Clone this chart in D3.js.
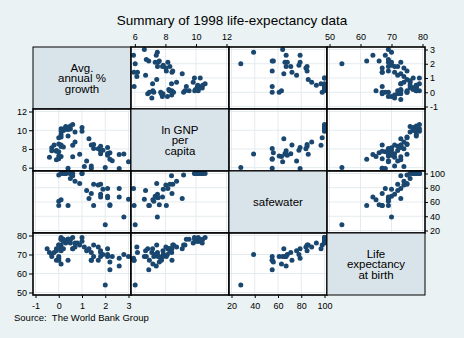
<!DOCTYPE html>
<html>
<head>
<meta charset="utf-8">
<script src="https://cdn.jsdelivr.net/npm/d3@7"></script>
<style>
  body { margin: 0; background: #eaf2f3; }
  svg { display: block; font-family: "Liberation Sans", Arial, sans-serif; }
</style>
</head>
<body>
<script>
// 1998 life-expectancy data
var countries = ["Albania","Armenia","Austria","Azerbaijan","Belarus","Belgium","Bosnia and Herzegovina","Bulgaria","Croatia","Czech Republic",
  "Denmark","Estonia","Finland","France","Georgia","Germany","Greece","Hungary","Ireland","Italy",
  "Kazakhstan","Kyrgyz Republic","Latvia","Lithuania","Macedonia, FYR","Moldova","Netherlands","Norway","Poland","Portugal",
  "Romania","Russian Federation","Slovak Republic","Slovenia","Spain","Sweden","Switzerland","Tajikistan","Turkey","Turkmenistan",
  "Ukraine","United Kingdom","Uzbekistan","Yugoslavia, FR","Canada","Cuba","Dominican Republic","El Salvador","Guatemala","Haiti",
  "Honduras","Jamaica","Mexico","Nicaragua","Panama","Puerto Rico","Trinidad and Tobago","United States","Argentina","Bolivia",
  "Brazil","Chile","Colombia","Ecuador","Paraguay","Peru","Uruguay","Venezuela"];

var popgrowth = [1.2,1.1,0.4,1.4,0.0,0.2,-0.5,-0.4,0.1,0.0,
  0.3,-0.3,0.3,0.4,-0.1,0.3,0.4,-0.2,0.7,0.1,
  0.1,1.4,-0.3,-0.1,0.6,0.4,0.5,0.5,0.1,0.1,
  0.0,-0.1,0.2,0.0,0.1,0.1,0.6,1.7,1.5,2.2,
  0.0,0.2,2.3,0.1,1.0,0.5,1.8,2.1,2.6,2.0,
  3.0,0.9,1.8,2.6,1.7,0.8,0.6,1.0,1.3,2.2,
  1.4,1.5,1.9,2.1,2.8,1.8,0.7,2.1];

var lexp = [72,74,78,71,68,78,73,71,73,75,
  76,70,77,78,73,77,78,71,76,78,
  65,67,69,72,73,67,78,78,73,75,
  69,67,73,75,78,79,79,67,69,66,
  67,77,69,72,79,76,71,69,64,54,
  69,75,72,68,74,76,73,77,73,62,
  67,75,70,70,70,69,74,73];

var lngnppc = [6.70,6.13,10.20,6.17,7.69,10.14,null,7.11,8.42,8.53,
  10.41,8.13,10.10,10.09,6.84,10.16,9.37,8.41,9.82,9.92,
  7.18,5.94,7.80,7.84,7.16,5.95,10.12,10.44,8.27,9.28,
  7.24,7.74,8.22,9.19,9.55,10.15,10.60,null,8.06,7.60,
  6.95,9.97,6.75,null,9.90,null,7.48,7.52,7.40,6.02,
  6.62,7.43,8.29,5.91,8.03,null,8.40,10.28,9.10,6.91,
  8.43,8.48,7.86,7.33,7.47,7.81,8.73,8.16];

var safewater = [76,null,null,null,null,null,null,null,null,null,
  100,null,100,null,null,null,null,null,null,null,
  63,null,null,null,null,55,100,100,null,null,
  61,null,null,98,null,100,100,null,55,56,
  55,100,null,null,100,93,71,66,67,28,
  64,86,85,79,84,null,97,100,65,55,
  72,85,78,68,39,67,89,79];

var growthTicks = [-1, 0, 1, 2, 3];
var gnpTicks = [6, 8, 10, 12];
var waterTicks = [20, 40, 60, 80, 100];
var lexpTicks = [50, 60, 70, 80];

var varValues = [popgrowth, lngnppc, safewater, lexp];
var varTicks = [growthTicks, gnpTicks, waterTicks, lexpTicks];
var varLabels = [["Avg.", "annual %", "growth"], ["ln GNP", "per", "capita"], ["safewater"], ["Life", "expectancy", "at birth"]];

var titleText = "Summary of 1998 life-expectancy data";
var noteText = "Source:  The World Bank Group";

// layout
var width = 464, height = 338;
var mLeft = 33, mTop = 47, mRight = 425, mBottom = 295;
var n = 4;
var cw = (mRight - mLeft) / n, ch = (mBottom - mTop) / n;
var pad = 2.5;

var svg = d3.select("body").append("svg")
    .attr("width", width)
    .attr("height", height);

svg.append("rect")
    .attr("width", width)
    .attr("height", height)
    .attr("fill", "#eaf2f3");

// scales per variable (x when in a column, y when in a row)
var xs = [], ys = [];
varValues.forEach(function(vals, i) {
    var ext = d3.extent(vals.filter(function(v) { return v != null; }).concat(varTicks[i]));
    xs.push(d3.scaleLinear().domain(ext).range([mLeft + i * cw + pad, mLeft + (i + 1) * cw - pad]));
    ys.push(d3.scaleLinear().domain(ext).range([mTop + (i + 1) * ch - pad, mTop + i * ch + pad]));
});

for (var r = 0; r < n; r++) {
  for (var c = 0; c < n; c++) {
    var cx0 = mLeft + c * cw, cy0 = mTop + r * ch;
    var cell = svg.append("g");
    if (r == c) {
        cell.append("rect")
            .attr("x", cx0).attr("y", cy0)
            .attr("width", cw).attr("height", ch)
            .attr("fill", "#d9e4ea")
            .attr("stroke", "#000")
            .attr("stroke-width", 1);
        var lines = varLabels[r];
        var lh = 10.5;
        cell.selectAll("text")
            .data(lines)
            .enter().append("text")
            .attr("x", cx0 + cw / 2)
            .attr("y", function(d, k) { return cy0 + ch / 2 + (k - (lines.length - 1) / 2) * lh + 4; })
            .attr("text-anchor", "middle")
            .attr("font-size", "11.5px")
            .attr("fill", "#000")
            .text(function(d) { return d; });
        continue;
    }
    cell.append("rect")
        .attr("x", cx0).attr("y", cy0)
        .attr("width", cw).attr("height", ch)
        .attr("fill", "#fff");
    // gridlines
    cell.selectAll(".vg")
        .data(varTicks[c])
        .enter().append("line")
        .attr("x1", function(d) { return xs[c](d); })
        .attr("x2", function(d) { return xs[c](d); })
        .attr("y1", cy0).attr("y2", cy0 + ch)
        .attr("stroke", "#e3ebee")
        .attr("stroke-width", 1);
    cell.selectAll(".hg")
        .data(varTicks[r])
        .enter().append("line")
        .attr("y1", function(d) { return ys[r](d); })
        .attr("y2", function(d) { return ys[r](d); })
        .attr("x1", cx0).attr("x2", cx0 + cw)
        .attr("stroke", "#e3ebee")
        .attr("stroke-width", 1);
    // points
    var pts = [];
    for (var k = 0; k < countries.length; k++) {
        if (varValues[c][k] != null && varValues[r][k] != null) {
            pts.push([varValues[c][k], varValues[r][k]]);
        }
    }
    (function(c, r) {
      cell.selectAll("circle")
        .data(pts)
        .enter().append("circle")
        .attr("cx", function(d) { return xs[c](d[0]); })
        .attr("cy", function(d) { return ys[r](d[1]); })
        .attr("r", 2.5)
        .attr("fill", "#1a476f");
    })(c, r);
    cell.append("rect")
        .attr("x", cx0).attr("y", cy0)
        .attr("width", cw).attr("height", ch)
        .attr("fill", "none")
        .attr("stroke", "#000")
        .attr("stroke-width", 1.6);
  }
}

// outer axes, alternating like graph matrix
var fmt = function(d) { return String(d); };
function styleAxis(g) {
    g.select(".domain").remove();
    g.selectAll("text").attr("font-size", "9px").attr("fill", "#000")
        .style("font-family", "'Liberation Sans', Arial, sans-serif");
    g.selectAll("line").attr("stroke", "#000");
}
[1, 3].forEach(function(i) {
    svg.append("g")
        .attr("transform", "translate(0," + mTop + ")")
        .call(d3.axisTop(xs[i]).tickValues(varTicks[i]).tickFormat(fmt).tickSize(3).tickPadding(4))
        .call(styleAxis);
});
[0, 2].forEach(function(i) {
    svg.append("g")
        .attr("transform", "translate(0," + mBottom + ")")
        .call(d3.axisBottom(xs[i]).tickValues(varTicks[i]).tickFormat(fmt).tickSize(3).tickPadding(5))
        .call(styleAxis);
});
[1, 3].forEach(function(i) {
    svg.append("g")
        .attr("transform", "translate(" + mLeft + ",0)")
        .call(d3.axisLeft(ys[i]).tickValues(varTicks[i]).tickFormat(fmt).tickSize(4).tickPadding(2))
        .call(styleAxis);
});
[0, 2].forEach(function(i) {
    svg.append("g")
        .attr("transform", "translate(" + mRight + ",0)")
        .call(d3.axisRight(ys[i]).tickValues(varTicks[i]).tickFormat(fmt).tickSize(3).tickPadding(2))
        .call(styleAxis);
});

svg.append("text")
    .attr("x", width / 2)
    .attr("y", 25)
    .attr("text-anchor", "middle")
    .attr("font-size", "13.5px")
    .attr("fill", "#000")
    .text(titleText);

svg.append("text")
    .attr("x", 14)
    .attr("y", 321)
    .attr("font-size", "9.5px")
    .attr("fill", "#000")
    .style("white-space", "pre")
    .text(noteText);
</script>
</body>
</html>
